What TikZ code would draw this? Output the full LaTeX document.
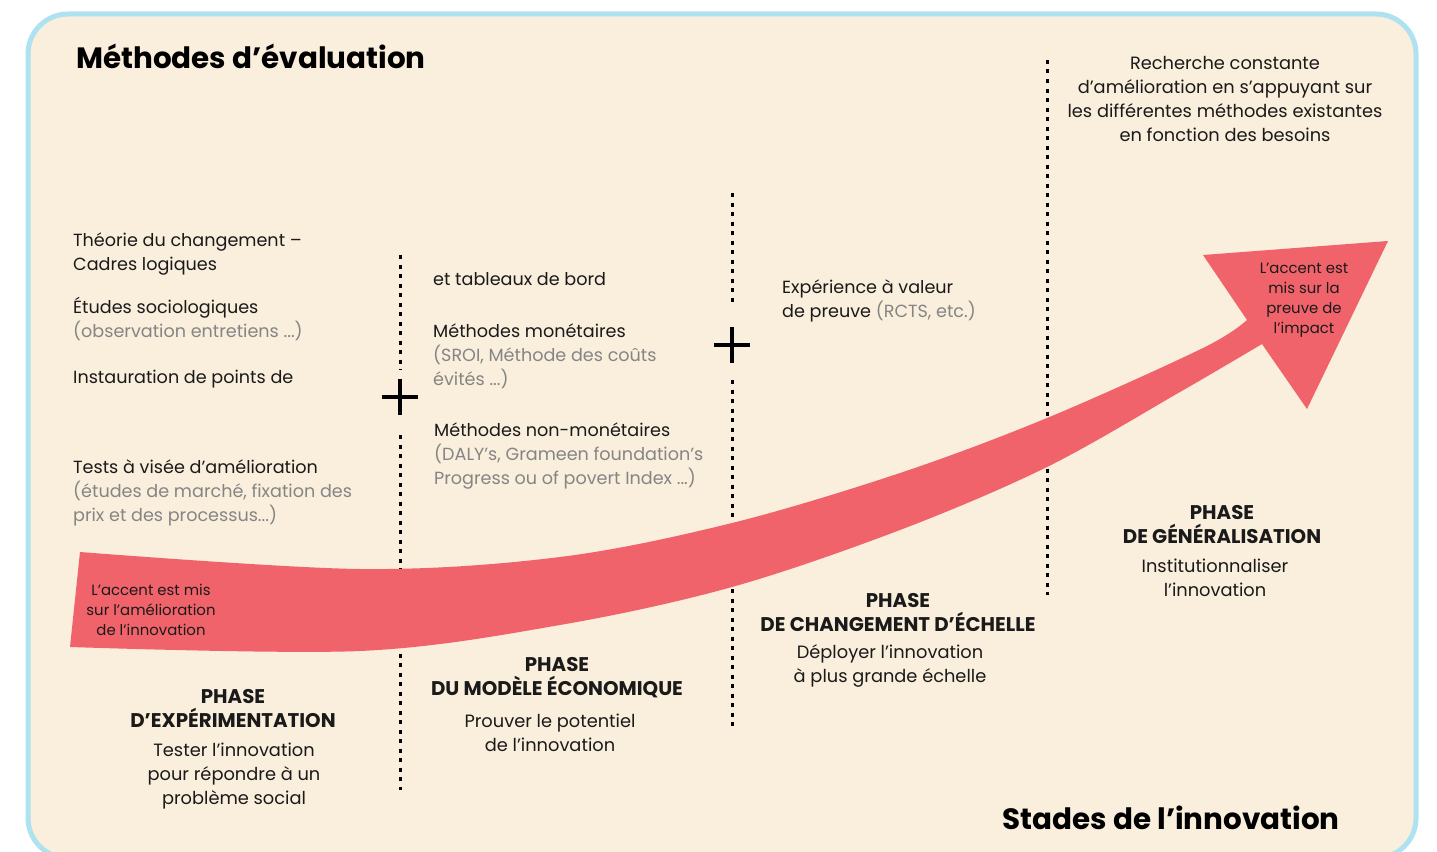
\documentclass[tikz,border=0pt]{standalone}
\usepackage{fontspec}
\setmainfont{Poppins}
\definecolor{cream}{HTML}{FAEEDC}
\definecolor{bordblue}{HTML}{AEE2F1}
\definecolor{arrowred}{HTML}{F0636B}
\definecolor{greytxt}{HTML}{858585}
\definecolor{ink}{HTML}{1A1A1A}
\tikzset{
  body/.style={font=\fontsize{17.6}{24}\selectfont, text=ink, inner sep=0pt, align=left, anchor=base west},
  centbody/.style={font=\fontsize{17.8}{24}\selectfont, text=ink, inner sep=0pt, align=center, anchor=base},
  phasehead/.style={font=\bfseries\fontsize{19.8}{24}\selectfont, text=ink, inner sep=0pt, align=center, anchor=base},
  arrowtxt/.style={font=\fontsize{14.9}{19.7}\selectfont, text=ink, inner sep=0pt, align=center, anchor=base},
  bigtitle/.style={font=\bfseries\fontsize{29.4}{36}\selectfont, text=black, inner sep=0pt},
  dotline/.style={line width=3pt, dash pattern=on 4pt off 5.5pt, black},
  plusline/.style={line width=4pt, black},
}
\begin{document}
\begin{tikzpicture}[x=1pt,y=-1pt]
\useasboundingbox (0,0) rectangle (1437,851);
\begin{scope}
\clip (0,0) rectangle (1437,851);
\draw[bordblue, line width=5pt, fill=cream, rounded corners=40pt] (28,14) rectangle (1416,858);

% titles
\node[bigtitle, anchor=base west] (t1) at (76,69) {Méthodes d’évaluation};
\node[bigtitle, anchor=base east] (t2) at (1340,829) {Stades de l’innovation};

% dotted separators
\coordinate (d1a) at (400,255); \coordinate (d1b) at (400,370);
\coordinate (d1c) at (400,435); \coordinate (d1d) at (400,790);
\coordinate (d2a) at (732,193); \coordinate (d2b) at (732,305);
\coordinate (d2c) at (732,380); \coordinate (d2d) at (732,727);
\coordinate (d3a) at (1047,60); \coordinate (d3b) at (1047,595);
\draw[dotline] (d1a) -- (d1b);
\draw[dotline] (d1c) -- (d1d);
\draw[dotline] (d2a) -- (d2b);
\draw[dotline] (d2c) -- (d2d);
\draw[dotline] (d3a) -- (d3b);

% plus signs
\coordinate (p1) at (400,397);
\coordinate (p2) at (732,345);
\draw[plusline] ([xshift=-18pt]p1) -- ([xshift=18pt]p1);
\draw[plusline] ([yshift=-18pt]p1) -- ([yshift=18pt]p1);
\draw[plusline] ([xshift=-18pt]p2) -- ([xshift=18pt]p2);
\draw[plusline] ([yshift=-18pt]p2) -- ([yshift=18pt]p2);

% big arrow
\fill[arrowred] plot[smooth, tension=0.55] coordinates {(80,552) (360,569) (560,557) (732,523) (900,473) (1047,418) (1203,348) (1247,320)}
  -- (1203,255) -- (1388,241) -- (1307,409) -- (1262,344)
  -- plot[smooth, tension=0.55] coordinates {(1262,344) (1180,392) (1047,467) (900,530) (732,587) (560,625) (360,651) (70,647)} -- cycle;

% arrow texts
\node[arrowtxt] (a1) at (151,635) {L’accent est mis\\sur l’amélioration\\de l’innovation};
\node[arrowtxt] (a2) at (1304,333) {L’accent est\\mis sur la\\preuve de\\l’impact};

% methods column 1
\node[body] (m1) at (73,270) {Théorie du changement –\\Cadres logiques};
\node[body] (m2) at (73,337) {Études sociologiques\\\textcolor{greytxt}{(observation entretiens ...)}};
\node[body] (m3) at (73,383) {Instauration de points de};
\node[body] (m4) at (73,521) {Tests à visée d’amélioration\\\textcolor{greytxt}{(études de marché, fixation des}\\\textcolor{greytxt}{prix et des processus...)}};

% methods column 2
\node[body] (m5) at (433,285) {et tableaux de bord};
\node[body] (m6) at (433,385) {Méthodes monétaires\\\textcolor{greytxt}{(SROI, Méthode des coûts}\\\textcolor{greytxt}{évités ...)}};
\node[body] (m7) at (434,484) {Méthodes non-monétaires\\\textcolor{greytxt}{(DALY’s, Grameen foundation’s}\\\textcolor{greytxt}{Progress ou of povert Index ...)}};

% methods column 3
\node[body] (m8) at (782,317) {Expérience à valeur\\de preuve \textcolor{greytxt}{(RCTS, etc.)}};

% column 4
\node[centbody] (m9) at (1225,141) {Recherche constante\\d’amélioration en s’appuyant sur\\les différentes méthodes existantes\\en fonction des besoins};

% phases
\node[phasehead] (ph1) at (233,727) {PHASE\\D’EXPÉRIMENTATION};
\node[centbody] (ph1t) at (234,804) {Tester l’innovation\\pour répondre à un\\problème social};
\node[phasehead] (ph2) at (557,695) {PHASE\\DU MODÈLE ÉCONOMIQUE};
\node[centbody] (ph2t) at (550,751) {Prouver le potentiel\\de l’innovation};
\node[phasehead] (ph3) at (898,631) {PHASE\\DE CHANGEMENT D’ÉCHELLE};
\node[centbody] (ph3t) at (890,682) {Déployer l’innovation\\à plus grande échelle};
\node[phasehead] (ph4) at (1222,543) {PHASE\\DE GÉNÉRALISATION};
\node[centbody] (ph4t) at (1215,596) {Institutionnaliser\\l’innovation};
\end{scope}
\end{tikzpicture}
\end{document}
